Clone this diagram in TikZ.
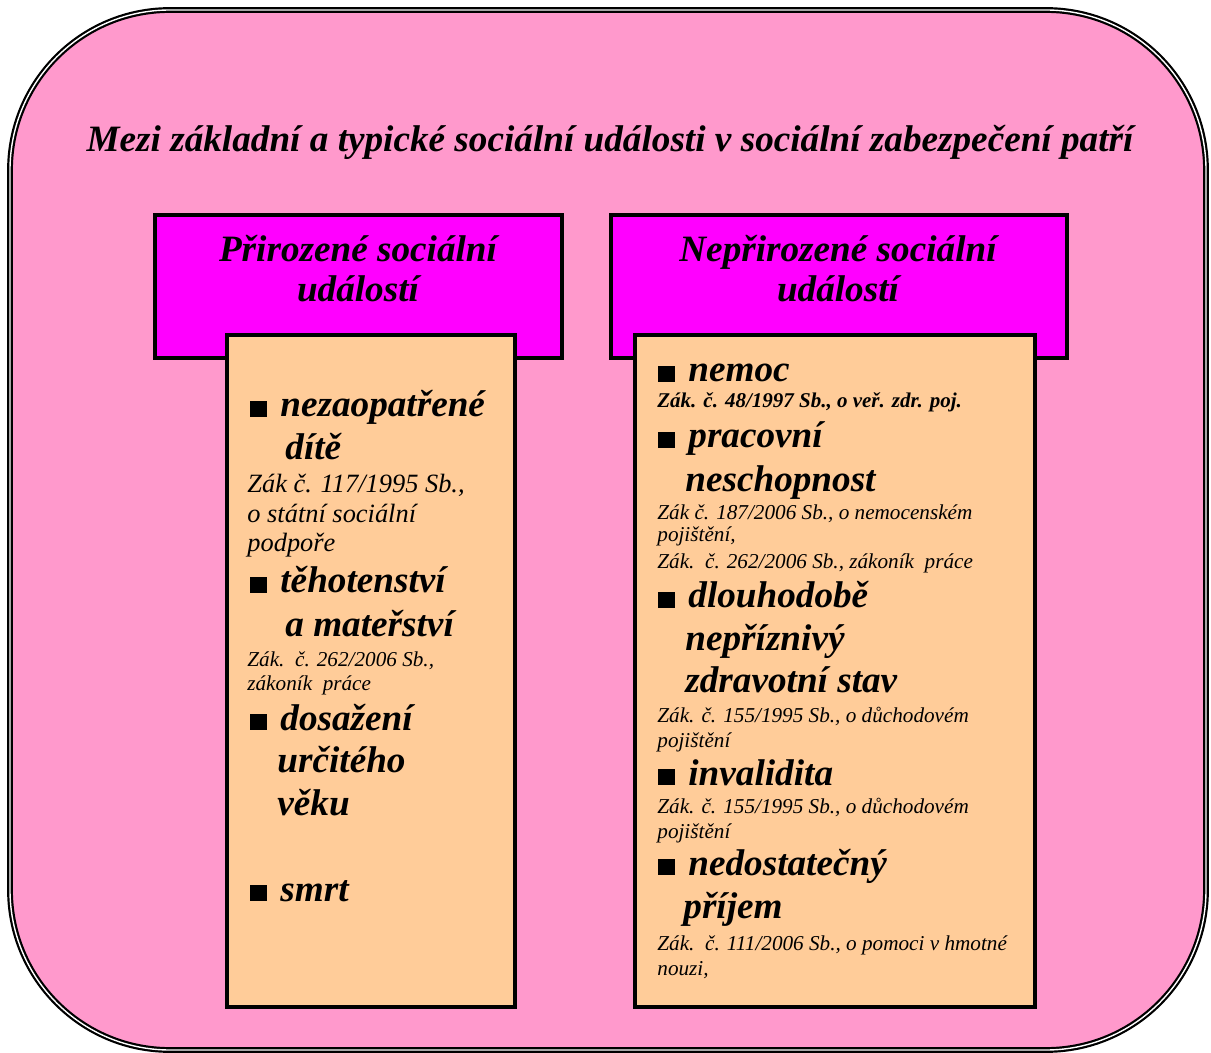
\documentclass[tikz,border=0pt]{standalone}
\usepackage{fontspec}
\setmainfont{Liberation Serif}
\usepackage{tikz}
\usetikzlibrary{positioning}
\definecolor{bgpink}{HTML}{FF99CC}
\definecolor{headmag}{HTML}{FF00FF}
\definecolor{listtan}{HTML}{FFCC99}
\tikzstyle{frame} = [draw=black,line width=1.1pt,double=white,double distance=0.7pt,fill=bgpink,rounded corners=80pt]
\tikzstyle{head} = [draw=black,line width=2pt,fill=headmag,inner sep=0]
\tikzstyle{list} = [draw=black,line width=2pt,fill=listtan,inner sep=0]
\tikzstyle{big} = [anchor=base west,inner sep=0,font=\fontsize{18.6}{21}\selectfont\bfseries\itshape]
\tikzstyle{hd} = [big,anchor=base]
\tikzstyle{law} = [anchor=base west,inner sep=0,font=\fontsize{10.6}{12}\selectfont\itshape]
\tikzstyle{lawbig} = [law,font=\fontsize{13.2}{15}\selectfont\itshape]
\tikzstyle{lawbold} = [law,font=\fontsize{10.5}{12}\selectfont\bfseries\itshape]
\def \bul {\rule{8.5pt}{8pt}\hspace{6.5pt}}

\begin{document}
\begin{tikzpicture}[x=0.5pt,y=-0.5pt]
      \useasboundingbox (0,0) rectangle (1211,1053);
      \draw[frame] (10,10) rectangle (1206,1050);
      \node[hd] (title) at (610,152) {Mezi základní a typické sociální události v sociální zabezpečení patří};
      % headers
      \node[head,minimum width=203.5pt,minimum height=71.75pt] (hdA) at (358.5,286.75) {};
      \node[head,minimum width=228pt,minimum height=71.75pt] (hdB) at (838.5,286.75) {};
      \node[hd] (hdA1) at (358,262) {Přirozené sociální};
      \node[hd] (hdA2) at (358,302) {událostí};
      \node[hd] (hdB1) at (838,262) {Nepřirozené sociální};
      \node[hd] (hdB2) at (838,302) {událostí};
      % lists
      \node[list,minimum width=144pt,minimum height=336pt] (lsA) at (370.5,671) {};
      \node[list,minimum width=200pt,minimum height=336pt] (lsB) at (835,671) {};
      % left column
      \node[big] (a1) at (250,417) {\bul nezaopatřené};
      \node[big] (a2) at (285,460) {dítě};
      \node[lawbig] (a3) at (247,493) {Zák č. 117/1995 Sb.,};
      \node[lawbig] (a4) at (247,523) {o státní sociální};
      \node[lawbig] (a5) at (247,552) {podpoře};
      \node[big] (a6) at (250,593) {\bul těhotenství};
      \node[big] (a7) at (285,637) {a mateřství};
      \node[law] (a8) at (247,667) {Zák.\ \ č. 262/2006 Sb.,};
      \node[law] (a9) at (247,690) {zákoník\ \ práce};
      \node[big] (a10) at (250,730) {\bul dosažení};
      \node[big] (a11) at (277,772) {určitého};
      \node[big] (a12) at (277,815) {věku};
      \node[big] (a13) at (250,901) {\bul smrt};
      % right column
      \node[big] (b1) at (658,382) {\bul nemoc};
      \node[lawbold] (b2) at (657,408) {Zák. č. 48/1997 Sb., o veř. zdr. poj.};
      \node[big] (b3) at (658,448) {\bul pracovní};
      \node[big] (b4) at (685,492) {neschopnost};
      \node[law] (b5) at (657,520) {Zák č. 187/2006 Sb., o nemocenském};
      \node[law] (b6) at (657,542) {pojištění,};
      \node[law] (b7) at (657,568) {Zák.\ \ č. 262/2006 Sb., zákoník\ \ práce};
      \node[big] (b8) at (658,608) {\bul dlouhodobě};
      \node[big] (b9) at (685,650) {nepříznivý};
      \node[big] (b10) at (685,692) {zdravotní stav};
      \node[law] (b11) at (657,722) {Zák. č. 155/1995 Sb., o důchodovém};
      \node[law] (b12) at (657,747) {pojištění};
      \node[big] (b13) at (658,785) {\bul invalidita};
      \node[law] (b14) at (657,813) {Zák. č. 155/1995 Sb., o důchodovém};
      \node[law] (b15) at (657,838) {pojištění};
      \node[big] (b16) at (658,875) {\bul nedostatečný};
      \node[big] (b17) at (683,918) {příjem};
      \node[law] (b18) at (657,950) {Zák.\ \ č. 111/2006 Sb., o pomoci v hmotné};
      \node[law] (b19) at (657,975) {nouzi,};
    \end{tikzpicture}
\end{document}
